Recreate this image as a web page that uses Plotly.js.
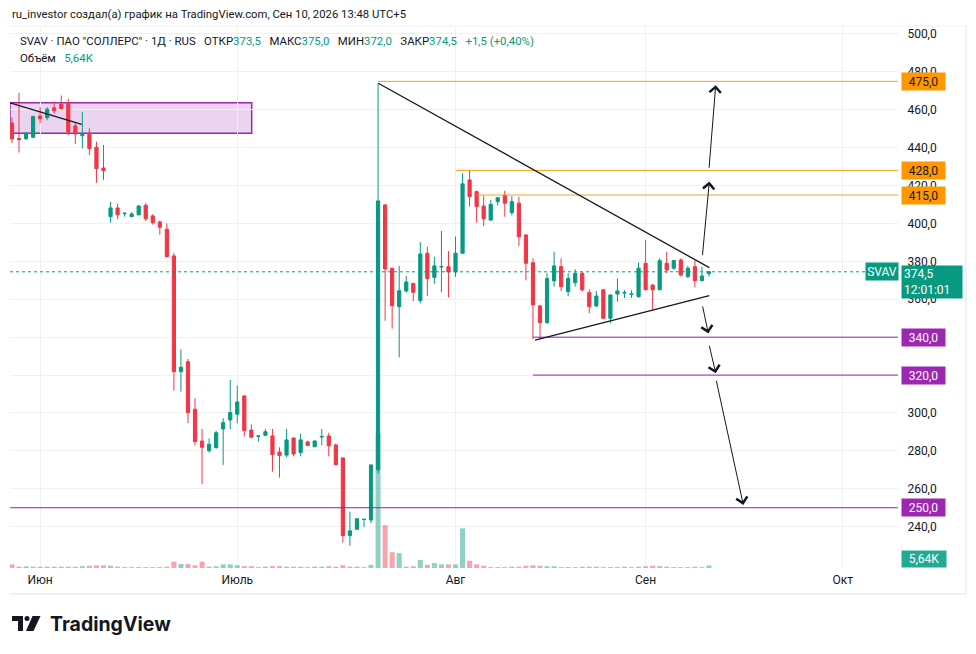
<!DOCTYPE html>
<html><head><meta charset="utf-8">
<script src="https://cdn.plot.ly/plotly-3.0.1.min.js"></script>
<style>html,body{margin:0;padding:0;background:#fff}#chart{width:976px;height:654px}</style>
</head><body><div id="chart"></div>
<script>
// ---- data (daily candles, index 0..99) ----
const opens  = [453,444.8,444.7,445.5,456.7,455.8,461,463,463.7,451.5,446.3,447.6,440.2,429.3,403.6,408.2,405.2,403.6,404.6,409.6,404,400.8,397,382.9,321.8,327,302,285.2,280.1,281.7,291.6,296.3,299.3,309,291,287.7,288.2,287.9,279.4,277.8,286.8,279.1,284.7,282.2,287.3,287.9,283.1,276.3,235.3,238.6,243.8,243.5,270,409.8,376.4,356.1,364.4,368.4,359.3,384.3,371.6,377,377.2,374.4,384.3,423,416.8,409.2,401.8,411.5,415,405.7,410.7,393.9,379.3,356.5,347.7,369.7,377.2,364,368.8,373.7,363.5,356.5,365,350,362.8,363.3,362.6,361.4,379,367.5,365,379,376.4,380.7,371.9,377.2,369.8,373.5];
const highs  = [456,469,448.4,456.9,461.3,461.3,464.2,467.5,465.8,452.9,458.8,450.2,443.2,441.4,411.5,410.4,405.6,406,409.8,410.7,404.9,401.5,400,384.5,333.6,328.5,307.8,291.6,286.6,290.6,297.2,317.4,314.4,309.5,294,288,291.6,291.6,281.9,291.6,287,289,285.4,285.5,291.6,289.6,284,276.3,247.9,244.5,244,272.6,474,410,376.5,377.6,372.3,368.6,390.2,387.7,382.4,396,385.4,393.1,426.5,428.2,417.3,414.7,412.5,413.6,417.3,414.4,414,394.5,381.6,357,373.7,385.1,381.6,373.7,375.8,374.6,365.3,364.4,365.3,362.3,371,364.8,364.8,379.4,391.3,368,381.6,385.1,380.8,381.6,377.6,380.4,377.2,375];
const lows   = [442.5,437.4,444,445,452.9,454.5,458,460,446.6,442,439.7,436.1,421.5,423,400.4,402.3,403.6,403.4,404.2,401.4,399.4,394.1,382,311.8,311.3,294.6,283,262.5,279,281.2,272.6,291.4,294.6,287.6,286.6,284.9,288,269,265.9,276.7,277.1,277.1,282.5,282,283,277.1,272.7,231.6,230,238.4,239.7,241.9,268,348.7,344.5,329.4,363.5,359,357.9,361.6,368.2,363.7,361,371.9,384,408.9,400.4,398.5,401.5,409.4,403.6,404.3,388.1,370,339,339,347,366.7,364.4,361.6,366.7,364,352.6,355.8,349.5,347.3,358.7,360.7,360.7,360.7,365,354.4,365,373.7,375.6,372,371.2,366.3,369.5,372];
const closes = [444.6,444.2,447.6,456.4,455.3,460.3,459.5,460.6,448.3,447.2,447,439.5,428.9,427.9,408.2,404.6,405.4,405,409.2,402.5,400.4,398,382.5,321.8,324.1,300.2,284.9,281.9,283.5,289.6,294.9,300.2,305.8,290.7,287.2,287.9,290.1,278,277.5,285.8,278.4,285.8,282.9,285.2,287.6,282.7,272.7,235.3,237.8,244.2,243.9,272.6,411.9,376,356.6,364.5,369.1,363.7,383.9,370.9,377.6,377.3,374.4,384.3,420.9,414.2,408.9,402.5,410.1,413.6,410.7,411.5,393,379,357,347.7,371,377.6,366.7,371,373.7,365,356.1,361.7,350,362.3,364.4,363.5,362.8,376.4,365,365,380.4,375.5,380.4,372.8,376.4,369.8,372.3,374.5];
const volumesK = [8,3,4,3,3,3,3,3,3,3,4,5,6,6,5,3,2,2,2,2,2,2,3,14,9,9,6,14,3,4,8,8,6,4,4,2,3,4,4,3,3,3,2,3,3,4,3,6,3,3,2,7,300,95,35,33,3,4,18,7,11,8,8,8,88,16,8,5,2,2,2,3,3,5,6,5,4,4,2,2,2,3,3,3,2,2,2,3,2,3,4,5,4,3,2,2,2,3,2,5.64];
const monthTickIdx = [4,32,63,90,118];
const monthLabels  = ['Июн','Июль','Авг','Сен','Окт'];
const priceTicks   = [240,260,280,300,320,340,360,380,400,420,440,460,480,500];
// horizontal levels: value, start index, colour key
const levelValues = [475,428,415,340,320,250];
const levelStarts = [52,63,66,74,74,-0.3];
const levelKinds  = ['o','o','o','p','p','p'];
// trend lines [i0,v0,i1,v1]
const triUpper = [52.03,474,99.05,376.7];
const triLower = [74.3,338.5,99.05,361.9];
const zoneLine = [-0.28,463.7,9.9,452.3];
const zoneBox  = [-0.28,447.6,34.05,463.7];
// arrows [tailI,tailV,headI,headV]
const arrows = [
  [98.06,382.5,99.05,422.1],
  [99.0,428.6,99.96,473],
  [98.06,357,98.91,342],
  [99.0,336.3,99.96,321],
  [100.0,317.8,103.88,251.5]
];
const lastPrice = 374.5;

// ---- drawing ----
const UP='#089981', DN='#F23645', ORANGE='#F7A21B', PURPLE='#9C27B0';
const FONT = 'Roboto, "Noto Sans", sans-serif';
const idx = opens.map((_,i)=>i);
const volColors = closes.map((c,i)=> c>=opens[i] ? 'rgba(8,153,129,0.45)' : 'rgba(242,54,69,0.45)');
const XR=[-0.28,125.85], YR=[218.2,504.2];
const L=10, R=898, T=26, B=568;
const PX = px => (px-L)/(R-L);
const PY = py => (B-py)/(B-T);

const traces = [
  {type:'bar', x:idx, y:volumesK, yaxis:'y2', marker:{color:volColors, line:{width:0}}, width:0.72, hoverinfo:'skip'},
  {type:'candlestick', x:idx, open:opens, high:highs, low:lows, close:closes,
   increasing:{line:{color:UP,width:1}, fillcolor:UP},
   decreasing:{line:{color:DN,width:1}, fillcolor:DN},
   whiskerwidth:0, hoverinfo:'skip'}
];

const shapes = [];
shapes.push({type:'rect', xref:'x', yref:'y', x0:zoneBox[0], y0:zoneBox[1], x1:zoneBox[2], y1:zoneBox[3],
  fillcolor:'rgba(156,39,176,0.2)', line:{color:PURPLE,width:1.5}, layer:'below'});
levelValues.forEach((v,k)=>{
  shapes.push({type:'line', xref:'x', yref:'y', x0:levelStarts[k], x1:XR[1], y0:v, y1:v,
    line:{color: levelKinds[k]==='o'?ORANGE:'#8E24AA', width:1}});
});
shapes.push({type:'line', xref:'x', yref:'y', x0:XR[0], x1:XR[1]-1, y0:lastPrice, y1:lastPrice, line:{color:UP,width:1,dash:'dot'}});
[triUpper,triLower,zoneLine].forEach(t=>{
  shapes.push({type:'line', xref:'x', yref:'y', x0:t[0], y0:t[1], x1:t[2], y1:t[3], line:{color:'#131722',width:1.3}});
});
// frame
shapes.push({type:'line', xref:'paper', yref:'paper', x0:PX(966), x1:PX(966), y0:PY(26), y1:PY(594), line:{color:'#e0e3eb',width:1}});
shapes.push({type:'line', xref:'paper', yref:'paper', x0:PX(10), x1:PX(966), y0:PY(594), y1:PY(594), line:{color:'#e0e3eb',width:1}});
shapes.push({type:'line', xref:'paper', yref:'paper', x0:PX(10), x1:PX(966), y0:PY(26), y1:PY(26), line:{color:'#eef0f3',width:1}});
// TradingView logo mark
const pth = pts => 'M' + pts.map(p=>PX(p[0])+','+PY(p[1])).join(' L') + ' Z';
shapes.push({type:'path', xref:'paper', yref:'paper', path:pth([[12,616],[23,616],[23,631],[18,631],[18,621],[12,621]]), fillcolor:'#131722', line:{width:0}});
shapes.push({type:'circle', xref:'paper', yref:'paper', x0:PX(24.5), x1:PX(29.5), y0:PY(621), y1:PY(616), fillcolor:'#131722', line:{width:0}});
shapes.push({type:'path', xref:'paper', yref:'paper', path:pth([[32.5,616],[40.5,616],[33.5,631],[26,631]]), fillcolor:'#131722', line:{width:0}});

const ann = [];
const txt = (x,y,text,opt={}) => Object.assign({xref:'paper', yref:'paper', x:PX(x), y:PY(y), xanchor:'left', yanchor:'middle', text, showarrow:false, font:{family:FONT,size:11.4,color:'#131722'}}, opt);
ann.push(txt(10,14,'ru_investor создал(а) график на TradingView.com, Сен 10, 2026 13:48 UTC+5',{font:{family:FONT,size:11.3,color:'#131722'}}));
const g = s => '<span style="color:'+UP+'">'+s+'</span>';
const sp = ' &nbsp;&nbsp;';
ann.push(txt(18,41,'SVAV · ПАО "СОЛЛЕРС" · 1Д · RUS'+sp+'ОТКР'+g('373,5')+sp+'МАКС'+g('375,0')+sp+'МИН'+g('372,0')+sp+'ЗАКР'+g('374,5')+sp+g('+1,5 (+0,40%)')));
ann.push(txt(18,58,'Объём'+sp+g('5,64K')));
ann.push(txt(48,624,'<b>TradingView</b>',{font:{family:'Inter, '+FONT,size:19.5,color:'#131722'}}));

// price scale labels
levelValues.forEach((v,k)=>{
  const o = levelKinds[k]==='o';
  ann.push({xref:'paper', yref:'y', x:PX(900.5), y:v, xanchor:'left', yanchor:'middle', text:v.toFixed(1).replace('.',','),
    showarrow:false, bgcolor:o?'#FF9800':PURPLE, width:40, height:14, borderpad:1.5,
    font:{family:FONT,size:12,color:o?'#131722':'#ffffff'}});
});
ann.push({xref:'paper', yref:'y', x:PX(899), y:lastPrice, xanchor:'right', yanchor:'middle', text:'SVAV', showarrow:false,
  bgcolor:UP, width:30, height:15, borderpad:1, font:{family:FONT,size:12,color:'#fff'}});
ann.push({xref:'paper', yref:'y', x:PX(900.5), y:lastPrice, yshift:7, xanchor:'left', yanchor:'top', text:'374,5<br>12:01:01', align:'left', showarrow:false,
  bgcolor:UP, width:56, height:28, borderpad:2, font:{family:FONT,size:12,color:'#fff'}});
ann.push({xref:'paper', yref:'paper', x:PX(900.5), y:PY(558.5), xanchor:'left', yanchor:'middle', text:'5,64K', showarrow:false,
  bgcolor:'#22AB94', width:41, height:13, borderpad:1.5, font:{family:FONT,size:12,color:'#fff'}});
// arrows
arrows.forEach(a=>{
  ann.push({xref:'x', yref:'y', axref:'x', ayref:'y', x:a[2], y:a[3], ax:a[0], ay:a[1], text:'', showarrow:true,
    arrowhead:4, arrowsize:2.2, arrowwidth:1, arrowcolor:'#131722', standoff:0, startstandoff:0});
});

const layout = {
  width:976, height:654, margin:{l:L, r:976-R, t:T, b:654-B, pad:0},
  paper_bgcolor:'#ffffff', plot_bgcolor:'#ffffff', showlegend:false,
  separators:', ', boxgap:0.35, bargap:0.3,
  font:{family:FONT, size:12, color:'#131722'},
  xaxis:{range:XR, type:'linear', tickmode:'array', tickvals:monthTickIdx, ticktext:monthLabels,
    showgrid:true, gridcolor:'#eef0f3', gridwidth:1, zeroline:false, showline:false,
    ticks:'outside', ticklen:1, tickcolor:'rgba(0,0,0,0)', rangeslider:{visible:false}, fixedrange:true,
    tickfont:{family:FONT,size:12,color:'#131722'}},
  yaxis:{range:YR, side:'right', tickmode:'array', tickvals:priceTicks, tickformat:'.1f',
    showgrid:true, gridcolor:'#eef0f3', gridwidth:1, zeroline:false, showline:false,
    ticks:'outside', ticklen:6, tickcolor:'rgba(0,0,0,0)', tickfont:{family:FONT,size:12,color:'#131722'}},
  yaxis2:{overlaying:'y', range:[0,1204], visible:false, showgrid:false, zeroline:false},
  shapes, annotations:ann
};
Plotly.newPlot('chart', traces, layout, {staticPlot:true, displayModeBar:false});
</script></body></html>
